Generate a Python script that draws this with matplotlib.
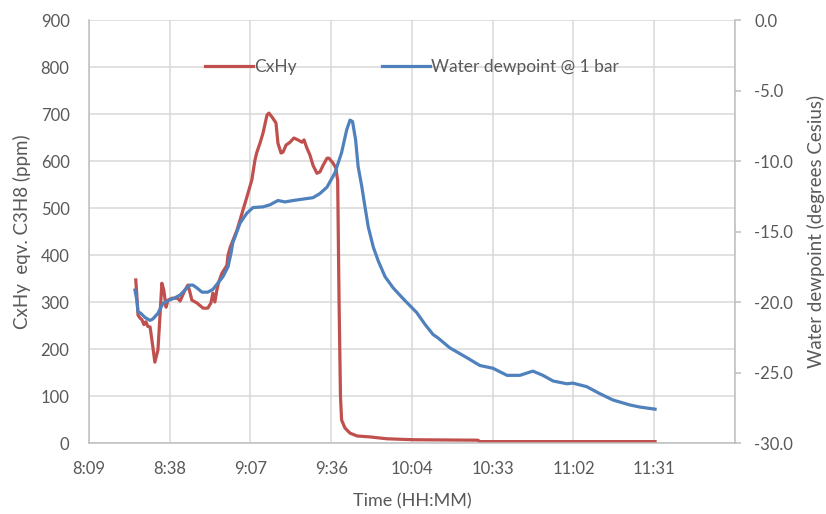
import matplotlib.pyplot as plt
from matplotlib.ticker import FixedLocator, FuncFormatter

# ── 数据（时间：自午夜起的分钟数）────────────────────────────────────
t_cxhy = [506.3, 506.6, 507.1, 507.8, 508.5, 509.2, 509.9, 510.6, 511.4, 512.4,
          513.1, 514.2, 514.9, 515.6, 516.3, 517.1, 517.8, 519.2, 521.3, 522.1,
          523.8, 524.9, 525.6, 526.3, 528.1, 530.3, 532.0, 533.1, 533.8, 534.5,
          535.2, 535.9, 537.0, 538.8, 539.2, 540.0, 542.4, 544.2, 545.9, 547.7,
          548.8, 549.5, 550.6, 551.7, 553.1, 553.8, 555.2, 556.3, 557.0, 558.1,
          558.8, 559.9, 561.3, 562.7, 564.1, 565.6, 566.3, 567.3, 568.4, 569.5,
          570.9, 572.0, 573.1, 574.5, 575.2, 576.6, 577.7, 578.1, 578.3, 578.8,
          579.3, 579.7, 580.9, 582.7, 585.2, 589.8, 595.9, 605.1, 628.3, 629.0,
          691.5]
cxhy = [347, 320, 272, 266, 262, 252, 258, 248, 247, 204,
        172, 198, 268, 340, 325, 289, 304, 308, 308, 302,
        325, 336, 321, 304, 298, 287, 287, 298, 319, 300,
        325, 343, 361, 378, 400, 417, 453, 489, 523, 560,
        602, 619, 638, 660, 698, 702, 691, 681, 638, 617,
        619, 634, 640, 649, 645, 640, 645, 628, 613, 591,
        574, 577, 591, 606, 606, 596, 585, 566, 560, 300,
        100, 49, 32, 21, 15, 13, 9, 7, 6, 3,
        3]

t_dew = [506.0, 506.7, 507.1, 508.1, 509.6, 511.4, 512.4, 514.2, 516.0, 517.8,
         520.3, 522.1, 523.8, 525.6, 526.7, 528.1, 529.9, 532.0, 533.8, 535.6,
         537.4, 539.2, 540.3, 540.9, 542.4, 543.5, 545.9, 548.1, 551.7, 554.2,
         557.0, 559.5, 562.4, 565.9, 569.5, 572.0, 574.5, 577.3, 579.7, 581.5,
         582.7, 583.6, 584.7, 585.6, 586.9, 588.0, 589.2, 591.0, 592.8, 595.2,
         598.1, 602.3, 606.5, 609.5, 612.3, 614.1, 618.3, 624.4, 629.0, 633.7,
         638.7, 643.3, 647.9, 651.5, 655.1, 660.1, 662.1, 667.1, 671.8, 676.5,
         682.5, 686.1, 691.5]
dewpoint = [-19.15, -19.9, -20.7, -20.8, -21.1, -21.3, -21.2, -20.8, -20.1, -19.9,
            -19.7, -19.5, -19.15, -18.8, -18.8, -19.0, -19.3, -19.3, -19.1, -18.65,
            -18.2, -17.5, -16.5, -15.8, -15.0, -14.4, -13.7, -13.3, -13.25, -13.1,
            -12.8, -12.9, -12.8, -12.7, -12.6, -12.3, -11.85, -10.85, -9.4, -7.8,
            -7.1, -7.2, -8.5, -10.4, -11.8, -13.2, -14.66, -16.1, -17.1, -18.2,
            -19.0, -19.9, -20.75, -21.6, -22.3, -22.55, -23.25, -23.95, -24.5, -24.7,
            -25.2, -25.2, -24.9, -25.2, -25.6, -25.8, -25.75, -26.0, -26.5, -26.95,
            -27.3, -27.45, -27.6]

# Excel 主刻度单位 0.02 天 = 28.8 分钟
x_ticks = [489.6 + 28.8 * k for k in range(9)]

RED = "#C0504D"
BLUE = "#4F81BD"
GRID = "#D9D9D9"
TXT = "#595959"

plt.rcParams["font.family"] = ["Lato", "DejaVu Sans"]
plt.rcParams["font.size"] = 12
plt.rcParams["axes.unicode_minus"] = False

fig = plt.figure(figsize=(8.26, 5.14), dpi=100)
ax = fig.add_axes([0.1077, 0.1381, 0.7821, 0.8229])
ax2 = ax.twinx()

l1, = ax.plot(t_cxhy, cxhy, color=RED, lw=2.3, label="CxHy")
l2, = ax2.plot(t_dew, dewpoint, color=BLUE, lw=2.3, label="Water dewpoint @ 1 bar")

ax.set_xlim(x_ticks[0], x_ticks[-1])
ax.set_ylim(0, 900)
ax2.set_ylim(-30, 0)
ax.set_yticks(range(0, 901, 100))
ax2.set_yticks(range(-30, 1, 5))
ax2.yaxis.set_major_formatter(FuncFormatter(lambda v, p: f"{v:.1f}"))

def hhmm(v, pos):
    if pos == len(x_ticks) - 1:
        return ""
    return f"{int(v // 60)}:{int(v % 60):02d}"

ax.xaxis.set_major_locator(FixedLocator(x_ticks))
ax.xaxis.set_major_formatter(FuncFormatter(hhmm))

ax.grid(True, color=GRID, lw=1.1)
ax.set_axisbelow(True)
for a in (ax, ax2):
    a.spines["top"].set_visible(False)
    for s in ("left", "bottom", "right"):
        a.spines[s].set_color("#BFBFBF")
        a.spines[s].set_linewidth(1.1)
ax.spines["right"].set_visible(False)
ax2.spines["left"].set_visible(False)
ax2.spines["bottom"].set_visible(False)

ax.tick_params(axis="x", length=0, colors=TXT, labelsize=12, pad=13)
ax.tick_params(axis="y", length=0, colors=TXT, labelsize=12, pad=14)
ax2.tick_params(axis="y", length=4, width=1.1, color="#BFBFBF",
                labelcolor=TXT, labelsize=12, pad=10)

ax.set_xlabel("Time (HH:MM)", color=TXT, fontsize=13, labelpad=12)
ax.set_ylabel("CxHy  eqv. C3H8 (ppm)", color=TXT, fontsize=13.5, labelpad=7)
ax2.set_ylabel("Water dewpoint (degrees Cesius)", color=TXT, fontsize=13.5, labelpad=10)

leg = ax.legend(handles=[l1, l2], loc="center", bbox_to_anchor=(0.5, 0.889),
                ncol=2, frameon=False, handlelength=2.8, handletextpad=0.05,
                columnspacing=4.9, fontsize=12.5)
for t in leg.get_texts():
    t.set_color(TXT)

plt.savefig("out.png", dpi=100)
